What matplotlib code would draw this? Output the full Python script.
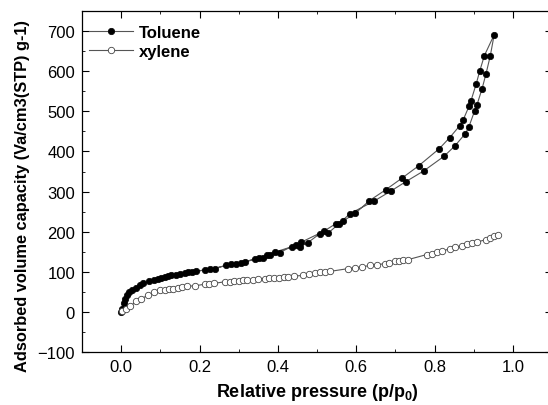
import numpy as np
import matplotlib.pyplot as plt
from matplotlib.ticker import MultipleLocator

plt.rcParams['font.family'] = ['Liberation Sans', 'DejaVu Sans']
plt.rcParams['mathtext.fontset'] = 'custom'
plt.rcParams['mathtext.rm'] = 'Liberation Sans'
plt.rcParams['mathtext.bf'] = 'Liberation Sans:bold'

# toluene: adsorption branch then desorption branch
tol_ads_x = [0.0, 0.003, 0.006, 0.011, 0.015, 0.021, 0.028, 0.037, 0.047, 0.055, 0.072,
             0.094, 0.111, 0.128, 0.149, 0.170, 0.192, 0.213, 0.239, 0.268, 0.294, 0.315,
             0.341, 0.362, 0.379, 0.405, 0.435, 0.456, 0.477, 0.507, 0.529, 0.556, 0.584,
             0.645, 0.688, 0.727, 0.773, 0.824, 0.851, 0.878, 0.887, 0.902, 0.908, 0.921,
             0.931, 0.942, 0.952]
tol_ads_y = [0, 8, 21, 33, 41, 50, 55, 60, 66, 72, 76, 83, 86, 91, 95, 99, 101, 105, 108,
             116, 120, 124, 133, 135, 141, 148, 163, 162, 173, 195, 197, 220, 245, 276,
             301, 325, 352, 388, 413, 444, 460, 501, 516, 556, 593, 638, 691]
tol_des_x = [0.952, 0.927, 0.915, 0.906, 0.893, 0.888, 0.873, 0.864, 0.838, 0.812, 0.759,
             0.716, 0.676, 0.633, 0.598, 0.567, 0.548, 0.517, 0.460, 0.447, 0.392, 0.371,
             0.352, 0.307, 0.281, 0.226, 0.181, 0.162, 0.140, 0.119, 0.102, 0.085]
tol_des_y = [691, 639, 600, 568, 527, 513, 479, 464, 434, 407, 364, 333, 305, 277, 246,
             227, 220, 201, 174, 166, 149, 141, 134, 122, 119, 106, 100, 97, 93, 89, 85, 80]

xyl_x = [0.0025, 0.013, 0.023, 0.038, 0.051, 0.068, 0.085, 0.098, 0.111, 0.122, 0.132,
         0.145, 0.156, 0.168, 0.188, 0.213, 0.224, 0.236, 0.264, 0.277, 0.288, 0.300,
         0.311, 0.322, 0.337, 0.349, 0.367, 0.378, 0.390, 0.403, 0.416, 0.427, 0.440,
         0.464, 0.480, 0.494, 0.507, 0.520, 0.533, 0.580, 0.597, 0.614, 0.635, 0.652,
         0.673, 0.684, 0.699, 0.710, 0.720, 0.731, 0.780, 0.793, 0.806, 0.818, 0.840,
         0.852, 0.869, 0.882, 0.895, 0.908, 0.930, 0.942, 0.952, 0.962]
xyl_y = [2, 6, 14, 26, 33, 41, 50, 54, 55, 56, 58, 60, 62, 64, 65, 69, 70, 71, 75, 75,
         76, 78, 79, 80, 80, 81, 83, 85, 85, 85, 87, 88, 89, 91, 94, 97, 100, 100, 101,
         108, 110, 112, 116, 118, 120, 123, 126, 127, 129, 130, 143, 145, 150, 151, 158,
         162, 164, 169, 172, 174, 180, 185, 188, 191]

tol_x = tol_ads_x + tol_des_x[1:]
tol_y = tol_ads_y + tol_des_y[1:]

fig = plt.figure(figsize=(5.48, 4.06), dpi=100)
ax = fig.add_axes([0.1496, 0.1305, 0.858, 0.8398])

ax.plot(tol_x, tol_y, color='#555555', lw=0.8, marker='o', ms=4.6,
        mfc='black', mec='black', mew=0.5, label='Toluene')
ax.plot(xyl_x, xyl_y, color='#555555', lw=0.8, marker='o', ms=4.6,
        mfc='white', mec='#444444', mew=0.6, label='xylene')

ax.set_xlim(-0.1, 1.1)
ax.set_ylim(-100, 750)
ax.set_xticks(np.arange(0, 1.01, 0.2))
ax.set_yticks(np.arange(-100, 701, 100))
ax.xaxis.set_minor_locator(MultipleLocator(0.1))
ax.yaxis.set_minor_locator(MultipleLocator(50))
ax.tick_params(which='both', direction='in', top=True, right=True, labelsize=12, pad=5)
ax.tick_params(which='major', length=5, width=0.8)
ax.tick_params(which='minor', length=2.5, width=0.6)
for s in ax.spines.values():
    s.set_linewidth(0.9)

ax.set_xlabel(r'Relative pressure (p/p$_\mathbf{0}$)', fontsize=13, fontweight='bold', labelpad=5)
ax.set_ylabel('Adsorbed volume capacity (Va/cm3(STP) g-1)', fontsize=11.8,
              fontweight='bold')
ax.yaxis.set_label_coords(-0.11, 0.46)

leg = ax.legend(loc='upper left', bbox_to_anchor=(0.005, 0.975), frameon=False,
                prop={'weight': 'bold', 'size': 12}, handlelength=2.6, numpoints=1,
                borderaxespad=0, labelspacing=0.25, handletextpad=0.4, borderpad=0.3)

fig.savefig('out.png', dpi=100)
